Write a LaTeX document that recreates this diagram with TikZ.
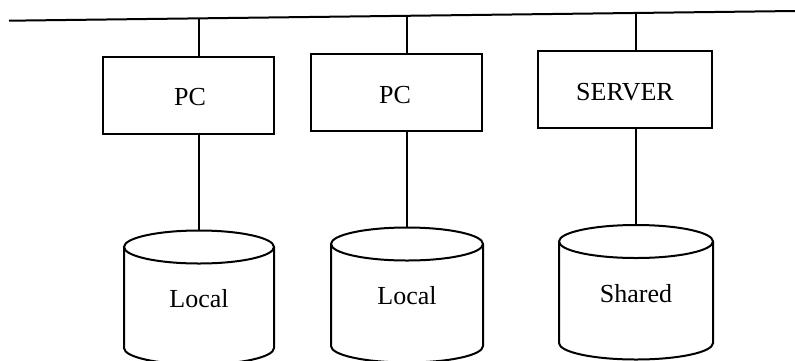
\documentclass[tikz,border=0pt]{standalone}
\usepackage{fontspec}
\setmainfont{Liberation Serif}
\begin{document}
\begin{tikzpicture}[x=1pt,y=-1pt,
  wire/.style={line width=2pt,black},
  unit/.style={draw,line width=2pt,rectangle,minimum width=171pt,minimum height=77pt,inner sep=0pt},
  disklabel/.style={inner sep=0pt,font=\fontsize{26}{31}\selectfont}]
\useasboundingbox (0,0) rectangle (795,360);
\clip (0,0) rectangle (795,360);

% network bus
\coordinate (busL) at (9,20.7);
\coordinate (busR) at (795,11);
\draw[wire] (busL) -- (busR);

% taps on the bus
\coordinate (c1) at (199,18.3);
\coordinate (c2) at (407,15.8);
\coordinate (c3) at (636,13.0);

% machines
\node[unit] (pc1) at (188.5,95.5) {};
\node[unit] (pc2) at (396.5,92) {};
\node[unit,minimum width=174pt] (srv) at (625,89.5) {};
\node[disklabel] (pc1t) at (190,97) {PC};
\node[disklabel] (pc2t) at (395,95) {PC};
\node[disklabel] (srvt) at (625,92) {SERVER};

% disks (cylinders)
\foreach \n/\cx/\cy/\rx/\by/\ty/\lab in {d1/199/247/75/348/299/Local, d2/407/244/76/346/296/Local, d3/636/241.5/77/343/294/Shared} {
  \coordinate (\n) at (\cx,\cy-16.5);
  \draw[wire] (\cx,\cy) ellipse [x radius=\rx, y radius=16.5];
  \draw[wire] (\cx-\rx,\cy) -- (\cx-\rx,\by)
     arc[start angle=180,end angle=0,x radius=\rx,y radius=16.5] -- (\cx+\rx,\cy);
  \node[disklabel] (\n t) at (\cx,\ty) {\lab};
}

% connections
\draw[wire] (c1) -- (c1 |- pc1.north);
\draw[wire] (c2) -- (c2 |- pc2.north);
\draw[wire] (c3) -- (c3 |- srv.north);
\draw[wire] (d1 |- pc1.south) -- (d1);
\draw[wire] (d2 |- pc2.south) -- (d2);
\draw[wire] (d3 |- srv.south) -- (d3);
\end{tikzpicture}
\end{document}
